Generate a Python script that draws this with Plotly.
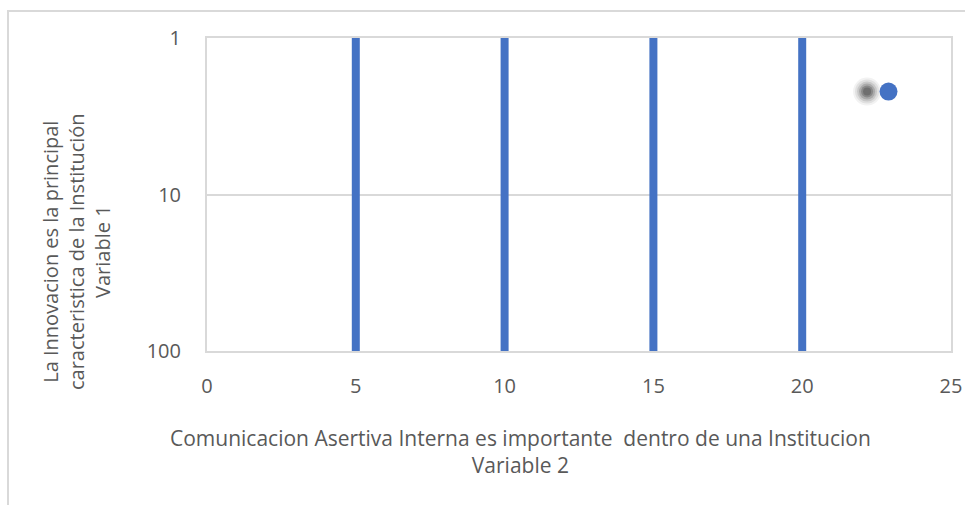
import plotly.graph_objects as go

# Data
line_x = [5, 10, 15, 20]          # vertical blue lines (Variable 2 positions)
line_y_span = [1, 100]            # full y-extent of each line
point_x = [22.9]                  # scatter point (Variable 2)
point_y = [2.2]                   # scatter point (Variable 1)
x_ticks = [0, 5, 10, 15, 20, 25]
y_ticks = [1, 10, 100]
x_title = ["Comunicacion Asertiva Interna es importante  dentro de una Institucion", "Variable 2"]
y_title = ["La Innovacion es la principal", "caracteristica de la Institución", "Variable 1"]

BLUE = "#4472C4"
GRID = "#D9D9D9"
TXT = "#595959"
FONT = "Open Sans"

fig = go.Figure()

# vertical lines
lx, ly = [], []
for v in line_x:
    lx += [v, v, None]
    ly += [line_y_span[0], line_y_span[1], None]
fig.add_trace(go.Scatter(x=lx, y=ly, mode="lines",
                         line=dict(color=BLUE, width=8),
                         hoverinfo="skip", showlegend=False))

# blurred shadow (offset to the left)
shadow_dx = 0.72
for s, op in [(28, 0.07), (24, 0.10), (20, 0.15), (16, 0.22), (12, 0.30), (8, 0.35)]:
    fig.add_trace(go.Scatter(x=[px - shadow_dx for px in point_x], y=point_y, mode="markers",
                             marker=dict(size=s, color="#404040", opacity=op, line=dict(width=0)),
                             hoverinfo="skip", showlegend=False))

fig.add_trace(go.Scatter(x=point_x, y=point_y, mode="markers",
                         marker=dict(size=18, color=BLUE, line=dict(width=0)),
                         showlegend=False))

fig.update_layout(
    width=965, height=505,
    margin=dict(l=207, r=14, t=38, b=154),
    paper_bgcolor="white", plot_bgcolor="white",
    font=dict(family=FONT, color=TXT, size=20),
    xaxis=dict(range=[0, 25], tickvals=x_ticks, showgrid=False, zeroline=False,
               showline=True, linecolor=GRID, linewidth=2, mirror=True, automargin=False,
               ticks="outside", ticklen=0, tickcolor="white",
               ticklabelstandoff=16, tickfont=dict(size=20, color=TXT)),
    yaxis=dict(type="log", range=[2, 0], tickvals=y_ticks, ticktext=[str(v) for v in y_ticks],
               showgrid=True, gridcolor=GRID, gridwidth=2, zeroline=False,
               showline=True, linecolor=GRID, linewidth=2, mirror=True, automargin=False,
               ticks="outside", ticklen=0, tickcolor="white",
               ticklabelstandoff=20, tickfont=dict(size=20, color=TXT)),
    shapes=[dict(type="rect", xref="paper", yref="paper",
                 x0=(8 - 207) / 744, x1=(975 - 207) / 744,
                 y0=(351 - 515) / 313, y1=(351 - 11) / 313,
                 line=dict(color=GRID, width=2), fillcolor="rgba(0,0,0,0)", layer="below")],
    annotations=[
        dict(text="<br>".join(x_title), xref="paper", yref="paper",
             x=(520 - 207) / 744, y=(351 - 451) / 313, xanchor="center", yanchor="middle",
             showarrow=False, font=dict(size=21, color=TXT)),
        dict(text="<br>".join(y_title), xref="paper", yref="paper",
             x=(76 - 207) / 744, y=(351 - 252) / 313, xanchor="center", yanchor="middle",
             textangle=-90, showarrow=False, font=dict(size=20, color=TXT)),
    ],
)

fig.write_html("out.html", config={"displayModeBar": False},
               post_script="document.body.style.margin='0px';")
